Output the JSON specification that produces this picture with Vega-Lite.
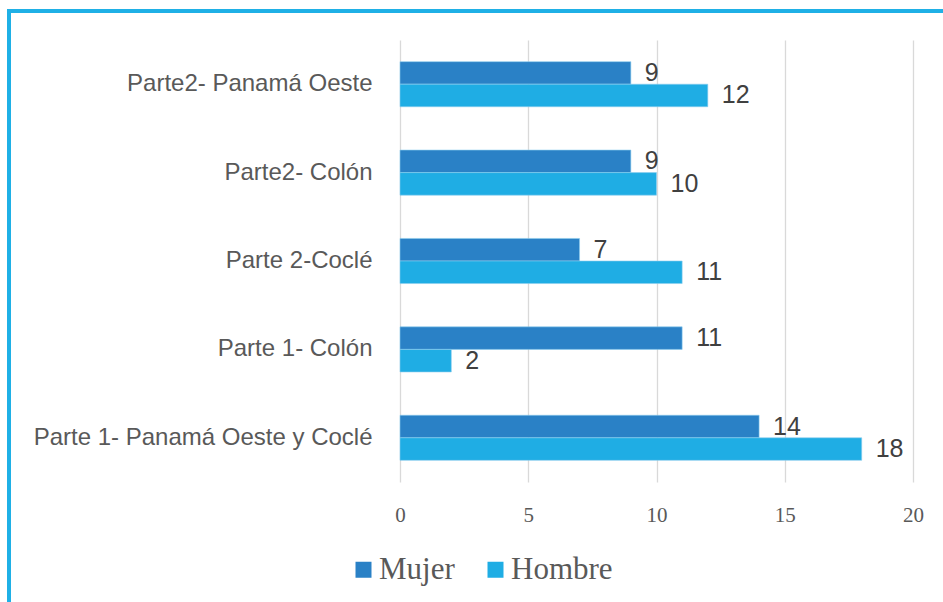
{
  "$schema": "https://vega.github.io/schema/vega-lite/v6.json",
  "autosize": "none",
  "width": 946,
  "height": 603,
  "padding": {"left": 9, "top": 11, "right": -12, "bottom": -12},
  "background": "white",
  "config": {"view": {"stroke": "#1FB0E6", "strokeWidth": 4, "fill": "white"}},
  "data": {
    "values": [
      {"region": "Parte2- Panamá Oeste", "sexo": "Mujer", "valor": 9},
      {"region": "Parte2- Panamá Oeste", "sexo": "Hombre", "valor": 12},
      {"region": "Parte2- Colón", "sexo": "Mujer", "valor": 9},
      {"region": "Parte2- Colón", "sexo": "Hombre", "valor": 10},
      {"region": "Parte 2-Coclé", "sexo": "Mujer", "valor": 7},
      {"region": "Parte 2-Coclé", "sexo": "Hombre", "valor": 11},
      {"region": "Parte 1- Colón", "sexo": "Mujer", "valor": 11},
      {"region": "Parte 1- Colón", "sexo": "Hombre", "valor": 2},
      {"region": "Parte 1- Panamá Oeste y Coclé", "sexo": "Mujer", "valor": 14},
      {"region": "Parte 1- Panamá Oeste y Coclé", "sexo": "Hombre", "valor": 18}
    ]
  },
  "encoding": {
    "y": {
      "field": "region",
      "type": "nominal",
      "sort": ["Parte2- Panamá Oeste", "Parte2- Colón", "Parte 2-Coclé", "Parte 1- Colón", "Parte 1- Panamá Oeste y Coclé"],
      "scale": {"range": [29, 471], "paddingInner": 0.49, "paddingOuter": 0.245},
      "axis": {
        "orient": "left",
        "offset": -391,
        "domain": false,
        "ticks": false,
        "grid": false,
        "title": null,
        "labelFont": "Liberation Sans",
        "labelFontSize": 24,
        "labelColor": "#595959",
        "labelPadding": 28,
        "labelLimit": 0
      }
    },
    "yOffset": {
      "field": "sexo",
      "type": "nominal",
      "sort": ["Mujer", "Hombre"],
      "scale": {"paddingInner": 0, "paddingOuter": 0}
    },
    "x": {
      "field": "valor",
      "type": "quantitative",
      "scale": {"domain": [0, 20], "range": [391, 904], "nice": false},
      "axis": {
        "orient": "top",
        "values": [0, 5, 10, 15, 20],
        "domain": false,
        "ticks": false,
        "grid": true,
        "gridColor": "#D9D9D9",
        "gridWidth": 1.3,
        "title": null,
        "labelFont": "Liberation Serif",
        "labelFontSize": 21,
        "labelColor": "#595959",
        "labelPadding": -504,
        "labelBaseline": "middle",
        "labelFlush": false
      }
    }
  },
  "layer": [
    {
      "mark": {"type": "bar", "stroke": "#8CCDEE", "strokeWidth": 0.6},
      "encoding": {
        "color": {
          "field": "sexo",
          "type": "nominal",
          "sort": ["Mujer", "Hombre"],
          "scale": {"domain": ["Mujer", "Hombre"], "range": ["#2A81C6", "#1FADE4"]},
          "legend": {
            "orient": "none",
            "legendX": 339,
            "legendY": 543,
            "direction": "horizontal",
            "title": null,
            "symbolType": "square",
            "symbolSize": 256,
            "symbolStrokeWidth": 0,
            "symbolOpacity": 1,
            "labelFont": "Liberation Serif",
            "labelFontSize": 31,
            "labelColor": "#595959",
            "labelOffset": 0,
            "columnPadding": 25,
            "labelLimit": 0
          }
        }
      }
    },
    {
      "mark": {
        "type": "text",
        "align": "left",
        "baseline": "middle",
        "dx": 14,
        "font": "Liberation Sans",
        "fontSize": 25,
        "color": "#404040"
      },
      "encoding": {"text": {"field": "valor", "type": "quantitative"}}
    }
  ]
}
